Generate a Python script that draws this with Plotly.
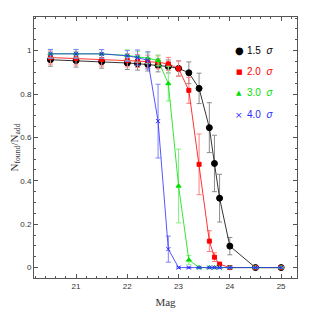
import plotly.graph_objects as go

mag = [20.5, 21.0, 21.5, 22.0, 22.2, 22.4, 22.6, 22.8, 23.0, 23.2, 23.4, 23.6, 23.7, 23.8, 24.0, 24.5, 25.0]

frac_15 = [0.958, 0.954, 0.949, 0.943, 0.940, 0.936, 0.932, 0.927, 0.918, 0.898, 0.826, 0.645, 0.480, 0.320, 0.099, 0.0, 0.0]
err_15 = [0.03, 0.03, 0.03, 0.03, 0.03, 0.03, 0.03, 0.03, 0.035, 0.05, 0.07, 0.115, 0.13, 0.11, 0.04, 0.004, 0.004]

frac_20 = [0.968, 0.964, 0.959, 0.955, 0.952, 0.949, 0.946, 0.939, 0.917, 0.817, 0.476, 0.122, 0.048, 0.016, 0.0, 0.0, 0.0]
err_20 = [0.03, 0.03, 0.03, 0.03, 0.03, 0.03, 0.03, 0.03, 0.035, 0.06, 0.14, 0.048, 0.02, 0.008, 0.003, 0.003, 0.003]

frac_30 = [0.986, 0.986, 0.985, 0.978, 0.972, 0.965, 0.955, 0.848, 0.376, 0.035, 0.0, 0.0, 0.0, 0.0, 0.0, 0.0, 0.0]
err_30 = [0.02, 0.02, 0.02, 0.025, 0.025, 0.025, 0.025, 0.08, 0.17, 0.02, 0.003, 0.003, 0.003, 0.003, 0.003, 0.003, 0.003]

frac_40 = [0.985, 0.985, 0.985, 0.976, 0.968, 0.955, 0.675, 0.085, 0.0, 0.0, 0.0, 0.0, 0.0, 0.0, 0.0, 0.0, 0.0]
err_40 = [0.02, 0.02, 0.02, 0.025, 0.035, 0.04, 0.17, 0.06, 0.003, 0.003, 0.003, 0.003, 0.003, 0.003, 0.003, 0.003, 0.003]

labels = ["1.5", "2.0", "3.0", "4.0"]
series = [frac_15, frac_20, frac_30, frac_40]
errors = [err_15, err_20, err_30, err_40]
line_colors = ["#000000", "#ff0000", "#00e000", "#2a2aff"]
err_colors = ["#8c8c8c", "#ff8080", "#80f080", "#8080ff"]
symbols = ["circle", "square", "triangle-up", "x-thin"]
sizes = [6, 4, 4.5, 4]
glyphs = ["●", "■", "▲", "×"]
glyph_sizes = [10, 7, 7, 9]

fig = go.Figure()
for ys, es, lc, ec, sym, sz in zip(series, errors, line_colors, err_colors, symbols, sizes):
    fig.add_trace(go.Scatter(
        x=mag, y=ys, mode="lines+markers",
        line=dict(color=lc, width=0.8),
        marker=dict(symbol=sym, size=sz, color=lc, line=dict(color=lc, width=1)),
        error_y=dict(type="data", array=es, visible=True, color=ec, thickness=1, width=2.5),
        showlegend=False,
    ))

ly = [0.873, 0.790, 0.709, 0.626]
for lab, c, g, gs, yy in zip(labels, line_colors, glyphs, glyph_sizes, ly):
    fig.add_annotation(xref="paper", yref="paper", x=0.781, y=yy, text=g,
                       showarrow=False, xanchor="center", yanchor="middle",
                       font=dict(color=c, size=gs, family="DejaVu Sans"))
    fig.add_annotation(xref="paper", yref="paper", x=0.803, y=yy,
                       text=lab + "  <i>σ</i>",
                       showarrow=False, xanchor="left", yanchor="middle",
                       font=dict(color=c, size=10, family="Liberation Sans"))

axis_common = dict(
    showline=True, linecolor="#555555", linewidth=1, mirror="allticks",
    ticks="inside", ticklen=4, tickcolor="#555555", tickwidth=1,
    showgrid=False, zeroline=False, automargin=False,
    tickfont=dict(size=8, color="#333333", family="Liberation Sans"),
)

fig.update_xaxes(range=[20.18, 25.31], tickmode="array", tickvals=[21, 22, 23, 24, 25],
                 minor=dict(dtick=0.2, tick0=20, ticks="inside", ticklen=2, tickcolor="#555555"),
                 title=dict(text="Mag", font=dict(size=11, family="Liberation Serif", color="#333333"), standoff=8),
                 **axis_common)
fig.update_yaxes(range=[-0.048, 1.155], tickmode="array", tickvals=[0, 0.2, 0.4, 0.6, 0.8, 1],
                 ticktext=["0", "0.2", "0.4", "0.6", "0.8", "1"],
                 minor=dict(dtick=0.05, tick0=0, ticks="inside", ticklen=2, tickcolor="#555555"),
                 title=dict(text="N<sub>found</sub>/N<sub>add</sub>",
                            font=dict(size=11, family="Liberation Serif", color="#333333"), standoff=4),
                 **axis_common)

# page body has a default 8px margin, so the figure is sized to fit the window
fig.update_layout(
    width=305, height=305,
    margin=dict(l=26, r=16, t=9, b=35),
    paper_bgcolor="white", plot_bgcolor="white",
)

fig.write_html("out.html")
